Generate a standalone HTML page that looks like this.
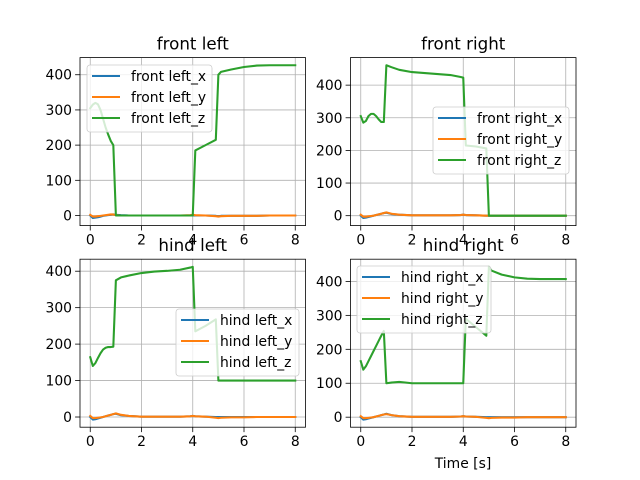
<!DOCTYPE html>
<html><head><meta charset="utf-8"><style>
body{margin:0;background:#fff;}
svg{display:block;font-family:"DejaVu Sans","Liberation Sans",sans-serif;}
</style></head><body>
<svg id="fig" width="640" height="480" viewBox="0 0 640 480" xmlns="http://www.w3.org/2000/svg"></svg>
<script>
const times=[0,0.1,0.2,0.3,0.4,0.5,0.6,0.7,0.8,0.9,1.0,1.2,1.5,2,2.5,3,3.5,3.9,4.0,4.1,4.5,4.9,5.0,5.1,5.5,6,6.5,7,7.5,8];
const xTicks=[0,2,4,6,8];
const yTicks=[0,100,200,300,400];
const titles=["front left","front right","hind left","hind right"];
const flX=[0,-7,-6,-5,-3,-1,0,1,2,3,2,1,0,0,0,0,0,0,0,0,0,-1,-2,-1,-1,-1,-1,0,0,0];
const flY=[2,-3,-3,-2,-1,0,1,2,3,3,1,0,0,0,0,0,0,1,2,1,0,-2,-3,-2,-1,-1,-1,0,0,0];
const flZ=[305,315,320,316,300,275,250,230,212,200,0,0,0,0,0,0,0,0,0,185,200,215,400,408,415,422,426,427,427,427];
const frX=[0,-7,-6,-4,-2,0,2,4,6,8,9,5,3,1,1,1,1,2,3,2,1,0,0,0,0,0,0,0,0,0];
const frY=[3,-3,-3,-2,-1,0,2,4,6,8,10,6,3,1,1,1,1,2,3,2,1,0,0,0,0,0,0,0,0,0];
const frZ=[305,285,290,305,312,312,305,295,287,287,461,455,447,440,437,434,431,425,423,215,212,206,0,0,0,0,0,0,0,0];
const hlX=[0,-7,-6,-4,-2,0,2,4,6,8,9,5,3,1,1,1,1,2,3,2,1,0,0,0,0,0,0,0,0,0];
const hlY=[3,-3,-3,-2,-1,0,2,4,6,8,10,6,3,1,1,1,1,2,3,2,1,-2,-3,-2,-1,-1,0,0,0,0];
const hlZ=[164,140,148,162,175,185,190,192,192,193,375,383,388,395,399,401,404,410,412,235,250,268,100,100,100,100,100,100,100,100];
const hrX=[0,-7,-6,-4,-2,0,2,4,6,8,10,6,3,1,1,1,1,2,3,2,1,0,0,0,0,0,0,0,0,0];
const hrY=[3,-3,-3,-2,-1,0,2,4,6,8,9,6,3,1,1,1,1,2,3,2,1,-2,-3,-2,-1,-1,0,0,0,0];
const hrZ=[165,140,150,165,180,195,210,225,240,254,100,102,104,100,100,100,100,100,100,290,265,240,443,432,420,412,408,407,407,407];

const NS="http://www.w3.org/2000/svg";
const svg=document.getElementById('fig');
function mk(tag,attrs,parent){const e=document.createElementNS(NS,tag);for(const k in attrs)e.setAttribute(k,attrs[k]);(parent||svg).appendChild(e);return e;}
const colors=["#1f77b4","#ff7f0e","#2ca02c"];
const panels=[
 {x0:80,y0:57.6,series:[flX,flY,flZ],leg:[87,65]},
 {x0:350.5,y0:57.6,series:[frX,frY,frZ],leg:[433,107]},
 {x0:80,y0:259.2,series:[hlX,hlY,hlZ],leg:[176,309]},
 {x0:350.5,y0:259.2,series:[hrX,hrY,hrZ],leg:[357,266]}
];
const W=225.5,H=168;
panels.forEach((p,i)=>{
  const g=mk('g',{});
  
  
  let mn=Infinity,mx=-Infinity;p.series.forEach(s=>s.forEach(v=>{mn=Math.min(mn,v);mx=Math.max(mx,v);}));
  const r=mx-mn;const ylo=mn-0.05*r,yhi=mx+0.05*r;
  const tmin=times[0],tmax=times[times.length-1],tr=tmax-tmin;
  const xlo=tmin-0.05*tr,xhi=tmax+0.05*tr;
  const sx=t=>p.x0+(t-xlo)/(xhi-xlo)*W;
  const sy=v=>p.y0+H-(v-ylo)/(yhi-ylo)*H;
  // grid
  xTicks.forEach(t=>{const X=sx(t);
    const l=mk('line',{x1:X,x2:X,y1:p.y0,y2:p.y0+H,stroke:'#b0b0b0','stroke-width':0.8},g);
    
    const tk=mk('line',{x1:X,x2:X,y1:p.y0+H,y2:p.y0+H+4.9,stroke:'#000','stroke-width':0.8},g);
    
    const tx=mk('text',{x:X,y:p.y0+H+19,'font-size':13.9,'text-anchor':'middle',fill:'#000'},g);tx.textContent=t;
    
  });
  yTicks.forEach(v=>{if(v<ylo||v>yhi)return;const Y=sy(v);
    const l=mk('line',{x1:p.x0,x2:p.x0+W,y1:Y,y2:Y,stroke:'#b0b0b0','stroke-width':0.8},g);
    
    const tk=mk('line',{x1:p.x0-4.9,x2:p.x0,y1:Y,y2:Y,stroke:'#000','stroke-width':0.8},g);
    
    const tx=mk('text',{x:p.x0-8,y:Y+5,'font-size':13.9,'text-anchor':'end',fill:'#000'},g);tx.textContent=v;
    
  });
  const sfx=['_x','_y','_z'];
  p.series.forEach((s,k)=>{
    const d=s.map((v,j)=>(j?'L':'M')+sx(times[j]).toFixed(2)+' '+sy(v).toFixed(2)).join('');
    const pa=mk('path',{d:d,fill:'none',stroke:colors[k],'stroke-width':2.08,'stroke-linejoin':'round','stroke-linecap':'square'},g);
    
    
  });
  const fr=mk('rect',{x:p.x0,y:p.y0,width:W,height:H,fill:'none',stroke:'#000','stroke-width':0.8},g);
  
  const ti=mk('text',{x:p.x0+W/2,y:p.y0-8,'font-size':16.7,'text-anchor':'middle',fill:'#000'},g);ti.textContent=titles[i];
  
  // legend
  const lw=[125,136,123,134][i];
  const lg=mk('g',{},g);
  
  const [lx,ly]=p.leg;
  const bx=mk('rect',{x:lx,y:ly,width:lw,height:67,rx:3,fill:'#fff','fill-opacity':0.8,stroke:'#cccccc','stroke-width':0.8},lg);
  
  for(let k=0;k<3;k++){const Y=ly+11+k*21;
    const hl=mk('line',{x1:lx+5,x2:lx+33,y1:Y,y2:Y,stroke:colors[k],'stroke-width':2.08},lg);
    
    const lt=mk('text',{x:lx+44,y:Y+5,'font-size':13.9,fill:'#000'},lg);lt.textContent=titles[i]+sfx[k];
    
  }
});
const xl=mk('text',{x:463,y:468,'font-size':13.9,'text-anchor':'middle',fill:'#000'});xl.textContent='Time [s]';


</script>
</body></html>
